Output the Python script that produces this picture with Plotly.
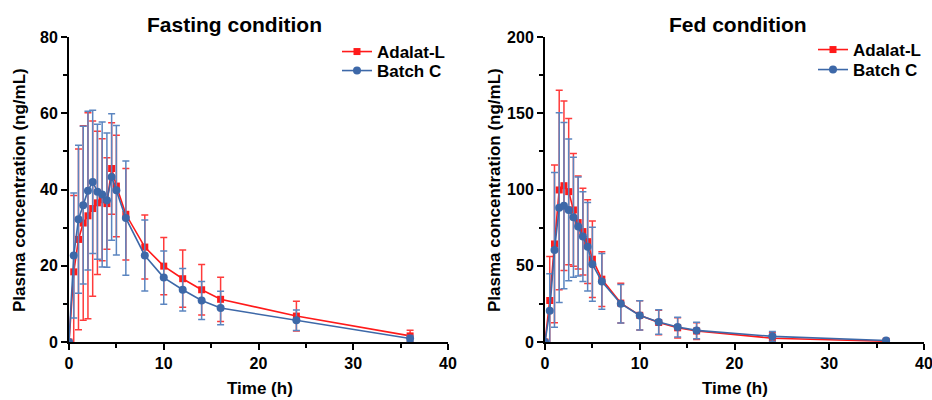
import plotly.graph_objects as go

time_h = [0, 0.5, 1, 1.5, 2, 2.5, 3, 3.5, 4, 4.5, 5, 6, 8, 10, 12, 14, 16, 24, 36]

# Fasting condition
fast_adalat = [0, 18.4, 26.9, 31.2, 33.1, 35.0, 36.5, 37.3, 36.3, 45.5, 40.9, 33.5, 24.9, 19.9, 16.6, 13.7, 11.2, 6.8, 1.6]
fast_adalat_sd = [0, 20.0, 23.7, 25.5, 27.0, 23.0, 18.8, 16.0, 12.0, 12.0, 13.3, 12.0, 8.4, 7.5, 7.5, 6.6, 5.8, 3.9, 1.5]
fast_batchc = [0, 22.7, 32.2, 35.9, 39.7, 42.0, 39.4, 38.7, 37.2, 43.3, 39.8, 32.5, 22.7, 16.9, 13.7, 10.9, 8.9, 5.7, 0.9]
fast_batchc_sd = [0, 16.4, 19.4, 20.7, 20.8, 18.8, 17.7, 19.0, 17.6, 16.6, 17.0, 15.0, 9.3, 7.0, 5.6, 5.0, 4.4, 2.7, 0.8]

# Fed condition
fed_adalat = [0, 27.2, 64.3, 99.7, 102.5, 98.6, 86.6, 78.3, 72.4, 65.8, 54.3, 41.2, 25.5, 17.5, 12.8, 9.3, 7.2, 2.5, 0.5]
fed_adalat_sd = [0, 28.8, 51.7, 65.4, 55.6, 48.0, 37.0, 30.5, 28.5, 27.5, 25.1, 18.0, 13.0, 9.6, 8.0, 6.6, 5.5, 3.5, 0.5]
fed_batchc = [0, 20.5, 60.4, 88.1, 89.4, 86.6, 81.8, 75.7, 69.1, 62.4, 51.0, 39.7, 25.1, 17.4, 13.1, 9.8, 7.6, 3.7, 1.0]
fed_batchc_sd = [0, 24.2, 50.7, 62.2, 54.5, 46.5, 39.3, 32.5, 29.5, 29.0, 24.2, 18.3, 12.6, 9.6, 8.0, 6.5, 5.4, 3.2, 0.5]

x_ticks = [0, 10, 20, 30, 40]
fast_y_ticks = [0, 20, 40, 60, 80]
fed_y_ticks = [0, 50, 100, 150, 200]

RED = "#FF1A1A"
BLUE = "#3D68A8"
RED_ERR = "#FF3B3B"
BLUE_ERR = "#5B85C0"
FONT = "Liberation Sans, Arial, sans-serif"

W, H = 932, 400

def px_x(p):
    return p / W

def px_y(p):
    return 1 - p / H

fig = go.Figure()

def add_series(x, y, sd, name, color, ecolor, symbol, size, xa, ya, legend):
    fig.add_trace(go.Scatter(
        x=x, y=y, name=name, mode="lines+markers",
        line=dict(color=color, width=1.6),
        marker=dict(color=color, symbol=symbol, size=size, line=dict(width=0)),
        error_y=dict(type="data", array=sd, visible=True, color=ecolor, thickness=1.5, width=3.5),
        xaxis=xa, yaxis=ya, legend=legend, showlegend=True,
    ))

add_series(time_h, fast_adalat, fast_adalat_sd, "Adalat-L", RED, RED_ERR, "square", 7, "x", "y", "legend")
add_series(time_h, fast_batchc, fast_batchc_sd, "Batch C", BLUE, BLUE_ERR, "circle", 8, "x", "y", "legend2")
add_series(time_h, fed_adalat, fed_adalat_sd, "Adalat-L", RED, RED_ERR, "square", 7, "x2", "y2", "legend3")
add_series(time_h, fed_batchc, fed_batchc_sd, "Batch C", BLUE, BLUE_ERR, "circle", 8, "x2", "y2", "legend4")

tickfont = dict(family=FONT, size=16, color="black", weight="bold")

def xaxis_cfg(domain, anchor):
    return dict(
        domain=domain, anchor=anchor, range=[0, 40], tickvals=x_ticks,
        showline=True, linecolor="black", linewidth=2, mirror=False,
        ticks="outside", ticklen=6, tickwidth=2, tickcolor="black",
        minor=dict(ticks="outside", ticklen=4, tickwidth=2, tickcolor="black", dtick=5),
        showgrid=False, zeroline=False, tickfont=tickfont, automargin=False,
        ticklabeloverflow="allow",
    )

def yaxis_cfg(domain, anchor, rng, tv, minor_dt):
    return dict(
        domain=domain, anchor=anchor, range=rng, tickvals=tv,
        showline=True, linecolor="black", linewidth=2, mirror=False,
        ticks="outside", ticklen=6, tickwidth=2, tickcolor="black",
        minor=dict(ticks="outside", ticklen=4, tickwidth=2, tickcolor="black", dtick=minor_dt),
        showgrid=False, zeroline=False, tickfont=tickfont, automargin=False,
        ticklabeloverflow="allow",
    )

ydom = [px_y(342), px_y(37)]

annotations = []

def ann(text, x, y, size, angle=0):
    annotations.append(dict(
        text=text, x=px_x(x), y=px_y(y), xref="paper", yref="paper",
        showarrow=False, textangle=angle, xanchor="center", yanchor="middle",
        font=dict(family=FONT, size=size, color="black", weight="bold"),
    ))

ann("Fasting condition", 234, 24, 21)
ann("Fed condition", 738, 24, 21)
ann("Plasma concentration (ng/mL)", 19, 190, 17, -90)
ann("Plasma concentration (ng/mL)", 494, 190, 17, -90)
ann("Time (h)", 260, 388, 17)
ann("Time (h)", 735, 388, 17)

legfont = dict(family=FONT, size=17, color="black", weight="bold")

def leg(x, y):
    return dict(x=px_x(x), y=px_y(y), xanchor="left", yanchor="middle",
                font=legfont, bgcolor="rgba(0,0,0,0)", tracegroupgap=0, itemwidth=30)

fig.update_layout(
    width=W, height=H,
    margin=dict(l=0, r=0, t=0, b=0, autoexpand=False),
    paper_bgcolor="white", plot_bgcolor="white",
    showlegend=True,
    xaxis=xaxis_cfg([px_x(69), px_x(448)], "y"),
    yaxis=yaxis_cfg(ydom, "x", [0, 80], fast_y_ticks, 10),
    xaxis2=xaxis_cfg([px_x(545), px_x(924)], "y2"),
    yaxis2=yaxis_cfg(ydom, "x2", [0, 200], fed_y_ticks, 25),
    legend=leg(337, 52),
    legend2=leg(337, 71),
    legend3=leg(813, 50),
    legend4=leg(813, 70),
    annotations=annotations,
)

fig.write_html("out.html", config={"displayModeBar": False},
               post_script="document.body.style.margin='0';document.body.style.overflow='hidden';")
